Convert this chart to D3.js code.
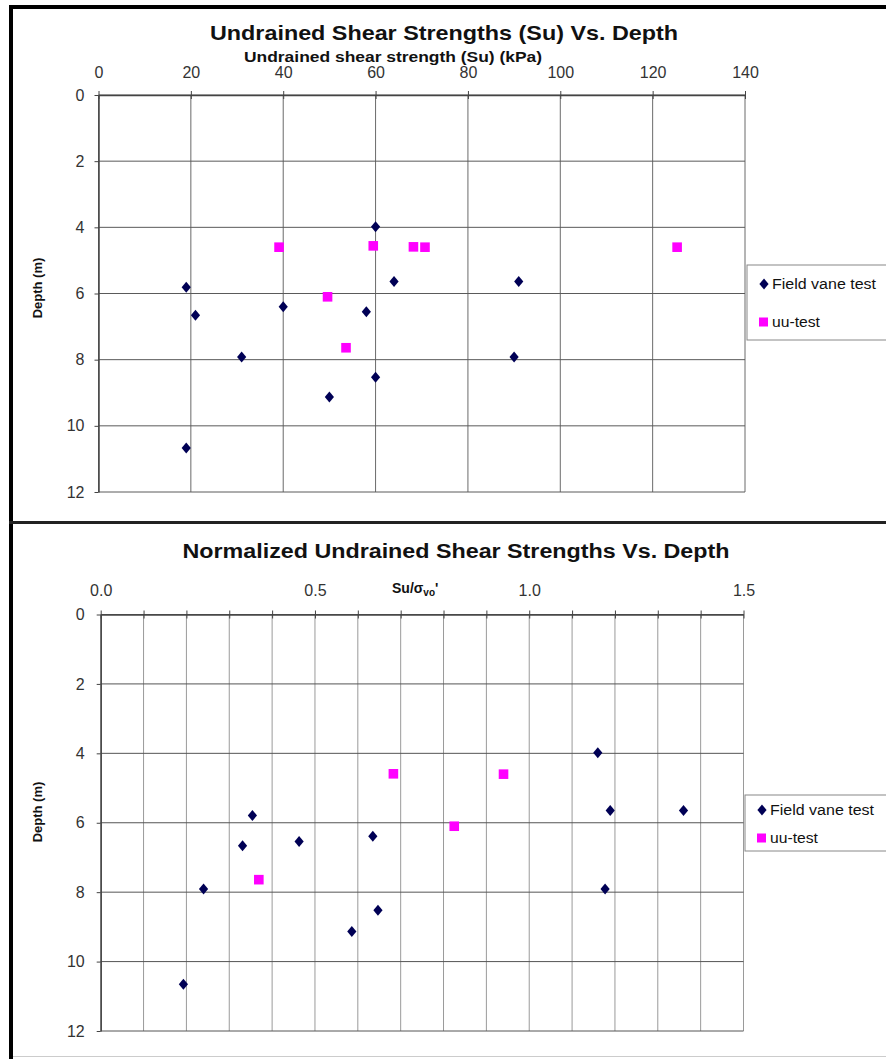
<!DOCTYPE html>
<html>
<head>
<meta charset="utf-8">
<script src="https://cdn.jsdelivr.net/npm/d3@7"></script>
<style>
  html, body { margin: 0; padding: 0; background: #ffffff; }
  svg { display: block; font-family: "Liberation Sans", Arial, sans-serif; }
</style>
</head>
<body>
<svg id="chart" width="886" height="1059"></svg>
<script>
// ---------- DATA ----------
// Top chart: undrained shear strength (kPa) vs depth (m)
const fieldVaneSu    = [60, 64, 91, 19, 40, 58, 21, 31, 90, 60, 50, 19];
const fieldVaneDepth = [3.98, 5.64, 5.64, 5.81, 6.40, 6.55, 6.66, 7.92, 7.92, 8.53, 9.13, 10.67];
const uuSu           = [39.1, 59.5, 68.2, 70.7, 125.3, 49.6, 53.6];
const uuDepth        = [4.60, 4.56, 4.59, 4.60, 4.60, 6.10, 7.64];

// Bottom chart: normalized strength Su/σvo' vs depth (m)
const fieldVaneRatio      = [1.160, 1.189, 1.360, 0.354, 0.635, 0.463, 0.331, 0.240, 1.177, 0.647, 0.586, 0.193];
const fieldVaneRatioDepth = [3.98, 5.65, 5.65, 5.79, 6.39, 6.54, 6.66, 7.91, 7.91, 8.52, 9.13, 10.65];
const uuRatio             = [0.683, 0.940, 0.825, 0.369];
const uuRatioDepth        = [4.59, 4.60, 6.10, 7.64];

// Axis ticks
const suTicks        = [0, 20, 40, 60, 80, 100, 120, 140];
const ratioTicks     = [0, 0.5, 1.0, 1.5];
const ratioTickLabels = ["0.0", "0.5", "1.0", "1.5"];
const ratioMinorTicks = [0, 0.1, 0.2, 0.3, 0.4, 0.5, 0.6, 0.7, 0.8, 0.9, 1.0, 1.1, 1.2, 1.3, 1.4, 1.5];
const depthTicks     = [0, 2, 4, 6, 8, 10, 12];

const seriesNames = ["Field vane test", "uu-test"];
const topTitle = "Undrained Shear Strengths (Su) Vs. Depth";
const topAxisTitle = "Undrained shear strength  (Su) (kPa)";
const bottomTitle = "Normalized Undrained Shear Strengths Vs. Depth";
const depthTitle = "Depth (m)";

// ---------- DRAWING ----------
const svg = d3.select("#chart");
const NAVY = "#000055", MAGENTA = "#ff00ff";
const diamondPath = "M0,-5.5L4.6,0L0,5.5L-4.6,0Z";

svg.append("rect").attr("width", 886).attr("height", 1059).attr("fill", "#fff");

function zip(a, b) { return a.map((v, i) => [v, b[i]]); }

function drawPanel(opt) {
  const g = svg.append("g");
  const x = d3.scaleLinear().domain(opt.xDomain).range(opt.xRange);
  const y = d3.scaleLinear().domain([0, 12]).range(opt.yRange);

  // vertical grid
  g.append("g").selectAll("line").data(opt.vGrid).join("line")
    .attr("x1", d => x(d)).attr("x2", d => x(d))
    .attr("y1", y(0)).attr("y2", y(12))
    .attr("stroke", opt.vGridColor).attr("stroke-width", 1);
  // horizontal grid
  g.append("g").selectAll("line").data(depthTicks).join("line")
    .attr("x1", x(opt.xDomain[0])).attr("x2", x(opt.xDomain[1]))
    .attr("y1", d => y(d)).attr("y2", d => y(d))
    .attr("stroke", opt.hGridColor).attr("stroke-width", 1);

  // top x axis
  const xa = g.append("g").attr("transform", `translate(0,${y(0)})`)
    .call(d3.axisTop(x).tickValues(opt.xTicks).tickSizeInner(4).tickSizeOuter(0)
      .tickPadding(opt.xPad).tickFormat(opt.xFormat));
  xa.selectAll(".tick line").attr("y1", 4).attr("stroke", "#444");
  xa.select(".domain").attr("stroke", "#444").attr("stroke-width", 1.5);
  xa.selectAll("text").attr("fill", "#333").attr("font-size", 16)
    .attr("font-family", "Liberation Sans, Arial, sans-serif");
  if (opt.xLabelTicks) {
    xa.selectAll(".tick text").text(function(d) {
      const i = opt.xLabelTicks.findIndex(v => Math.abs(v - d) < 1e-9);
      return i >= 0 ? opt.xLabels[i] : "";
    });
  }

  // left y axis
  const ya = g.append("g").attr("transform", `translate(${x(opt.xDomain[0])},0)`)
    .call(d3.axisLeft(y).tickValues(depthTicks).tickSizeInner(4).tickSizeOuter(0).tickPadding(opt.yPad));
  ya.selectAll(".tick line").attr("stroke", "#444");
  ya.select(".domain").attr("stroke", "#444").attr("stroke-width", 1.5);
  ya.selectAll("text").attr("fill", "#333").attr("font-size", 16)
    .attr("font-family", "Liberation Sans, Arial, sans-serif");

  // titles
  g.append("text").attr("x", opt.titleX).attr("y", opt.titleY)
    .attr("text-anchor", "middle").attr("font-weight", "bold").attr("font-size", opt.titleSize)
    .attr("fill", "#111").attr("textLength", opt.titleLen).attr("lengthAdjust", "spacingAndGlyphs")
    .text(opt.title);

  g.append("text")
    .attr("transform", `translate(${opt.depthX},${opt.depthY}) rotate(-90)`)
    .attr("text-anchor", "middle").attr("font-weight", "bold").attr("font-size", 13)
    .attr("fill", "#111").text(depthTitle);

  // series
  g.append("g").selectAll("path").data(zip(opt.fvX, opt.fvY)).join("path")
    .attr("d", diamondPath)
    .attr("transform", d => `translate(${x(d[0])},${y(d[1])})`)
    .attr("fill", NAVY);
  g.append("g").selectAll("rect").data(zip(opt.uuX, opt.uuY)).join("rect")
    .attr("x", d => x(d[0]) - 4.8).attr("y", d => y(d[1]) - 4.8)
    .attr("width", 9.6).attr("height", 9.6)
    .attr("fill", MAGENTA);

  // legend
  const lg = g.append("g");
  lg.append("rect").attr("x", opt.legX).attr("y", opt.legY)
    .attr("width", 160).attr("height", opt.legH)
    .attr("fill", "#fff").attr("stroke", "#888").attr("stroke-width", 1);
  opt.legRows.forEach((ry, i) => {
    if (i === 0) {
      lg.append("path").attr("d", diamondPath)
        .attr("transform", `translate(${opt.legX + 17},${ry})`).attr("fill", NAVY);
    } else {
      lg.append("rect").attr("x", opt.legX + 12).attr("y", ry - 4.5)
        .attr("width", 9).attr("height", 9).attr("fill", MAGENTA);
    }
    lg.append("text").attr("x", opt.legX + 25).attr("y", ry + 5)
      .attr("font-size", 14).attr("fill", "#111")
      .attr("textLength", i === 0 ? 104 : 48).attr("lengthAdjust", "spacingAndGlyphs")
      .text(seriesNames[i]);
  });
  return { g, x, y };
}

// Top panel
const topPanel = drawPanel({
  xDomain: [0, 140], xRange: [98.5, 745], yRange: [95, 492],
  vGrid: suTicks, vGridColor: "#6a6a6a", hGridColor: "#5a5a5a",
  xTicks: suTicks, xPad: 13, xFormat: d3.format("d"),
  yPad: 10,
  title: topTitle, titleX: 444, titleY: 40, titleLen: 468, titleSize: 21,
  depthX: 42, depthY: 288,
  fvX: fieldVaneSu, fvY: fieldVaneDepth, uuX: uuSu, uuY: uuDepth,
  legX: 747, legY: 265, legH: 75, legRows: [284, 322]
});
topPanel.g.append("text").attr("x", 393).attr("y", 62)
  .attr("text-anchor", "middle").attr("font-weight", "bold").attr("font-size", 14)
  .attr("fill", "#111").attr("textLength", 298).attr("lengthAdjust", "spacingAndGlyphs")
  .text(topAxisTitle);

// Bottom panel
const bottomPanel = drawPanel({
  xDomain: [0, 1.5], xRange: [100.7, 743.5], yRange: [614.5, 1031],
  vGrid: ratioMinorTicks, vGridColor: "#9a9a9a", hGridColor: "#555",
  xTicks: ratioMinorTicks, xPad: 15, xFormat: d3.format(".1f"),
  xLabelTicks: ratioTicks, xLabels: ratioTickLabels,
  yPad: 12,
  title: bottomTitle, titleX: 456, titleY: 558, titleLen: 547, titleSize: 20,
  depthX: 42, depthY: 812,
  fvX: fieldVaneRatio, fvY: fieldVaneRatioDepth, uuX: uuRatio, uuY: uuRatioDepth,
  legX: 745, legY: 795, legH: 56, legRows: [810, 838]
});
const at = bottomPanel.g.append("text").attr("x", 392).attr("y", 593)
  .attr("font-weight", "bold").attr("font-size", 14).attr("fill", "#111");
at.append("tspan").text("Su/σ");
at.append("tspan").attr("font-size", 10).attr("dy", 3).text("vo");
at.append("tspan").attr("dy", -3).text("'");

// Frame
svg.append("rect").attr("x", 9).attr("y", 5).attr("width", 4).attr("height", 1054).attr("fill", "#000");
svg.append("rect").attr("x", 9).attr("y", 5).attr("width", 877).attr("height", 4).attr("fill", "#000");
svg.append("rect").attr("x", 9).attr("y", 521).attr("width", 877).attr("height", 3).attr("fill", "#222");
svg.append("line").attr("x1", 13).attr("x2", 886).attr("y1", 1056.5).attr("y2", 1056.5)
  .attr("stroke", "#ccc").attr("stroke-width", 1);
</script>
</body>
</html>
